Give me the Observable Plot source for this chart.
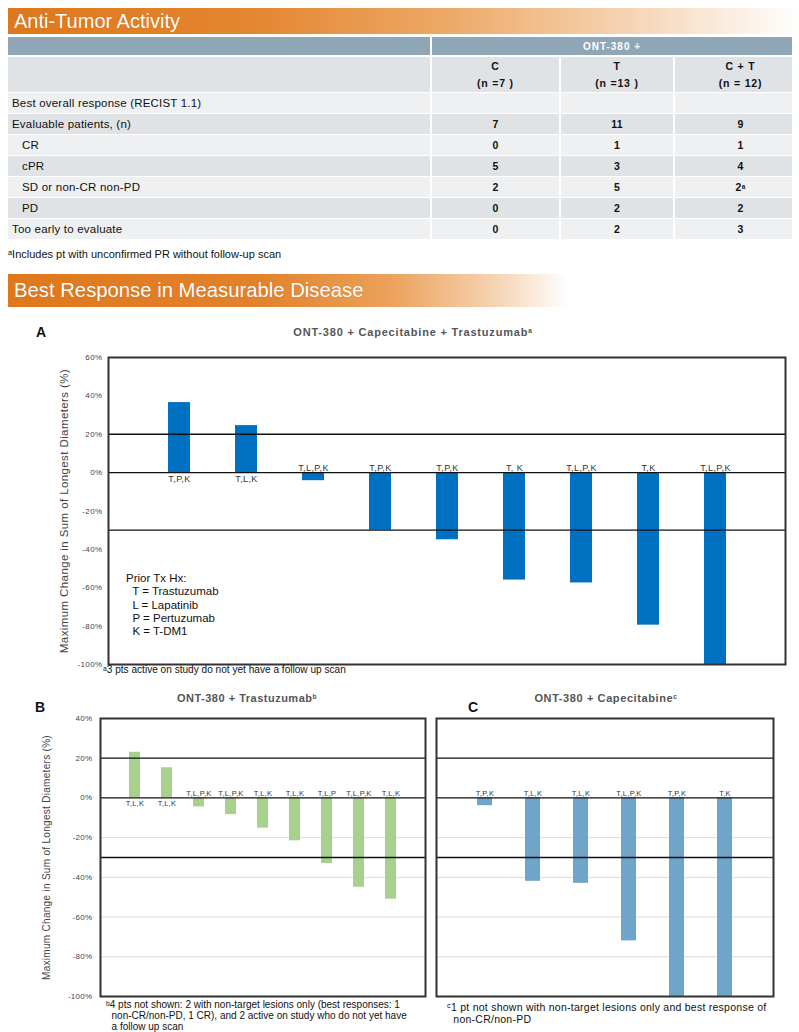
<!DOCTYPE html>
<html><head><meta charset="utf-8">
<script src="https://cdn.jsdelivr.net/npm/d3@7"></script>
<script src="https://cdn.jsdelivr.net/npm/@observablehq/plot@0.6"></script>
<style>
body{margin:0;width:799px;height:1032px;position:relative;font-family:"Liberation Sans",Arial,sans-serif;background:#fff;overflow:hidden;color:#111}
.banner{position:absolute;left:8px;color:#fff;padding-left:6px;box-sizing:border-box;text-shadow:0 0 1px rgba(120,50,0,0.4);white-space:nowrap}
.row{position:absolute;left:8px;width:784px}
.cell{position:absolute;top:0;height:100%;box-sizing:border-box;display:flex;align-items:center;white-space:nowrap}
.num{justify-content:center;font-weight:bold;font-size:10.5px;border-left:2px solid #fff;letter-spacing:0.3px}
.lab{font-size:11.5px;padding-left:4px;letter-spacing:0.2px}
.ind{padding-left:14px}
.title{position:absolute;font-weight:bold;font-size:11px;letter-spacing:0.6px;color:#555;white-space:nowrap;transform:translate(-50%,-50%)}
.panel{position:absolute;font-weight:bold;font-size:14px;color:#111;transform:translateY(-50%)}
.note{position:absolute;font-size:10.5px;line-height:12px;color:#111;white-space:nowrap}
sup{font-size:0.6em;vertical-align:0.45em;line-height:0}
.legend{position:absolute;left:126px;top:572px;font-size:11.5px;line-height:13.3px;color:#111;white-space:pre}
</style></head><body>
<div class="banner" style="top:8px;height:26px;width:791px;font-size:20px;line-height:26px;background:linear-gradient(to right,#df781c 0%,#e4852f 30%,#eca865 55%,#f5d3b2 78%,#fff 100%)">Anti-Tumor Activity</div>
<div id="table"></div>
<div class="note" style="left:8px;top:248px;font-size:11px">ᵃIncludes pt with unconfirmed PR without follow-up scan</div>
<div class="banner" style="top:274px;height:33px;width:560px;font-size:20.3px;line-height:33px;background:linear-gradient(to right,#df781c 0%,#e3822b 45%,#eba15a 68%,#f6d6b8 88%,#fff 100%)">Best Response in Measurable Disease</div>
<div id="charts"></div>
<div class="panel" style="left:36px;top:332px">A</div>
<div class="title" style="left:413px;top:332px;letter-spacing:0.8px">ONT-380 + Capecitabine + Trastuzumab<sup>a</sup></div>
<div class="legend">Prior Tx Hx:
  T = Trastuzumab
  L = Lapatinib
  P = Pertuzumab
  K = T-DM1</div>
<div class="note" style="left:103px;top:664px;font-size:10.1px">ᵃ3 pts active on study do not yet have a follow up scan</div>
<div class="panel" style="left:35px;top:707px">B</div>
<div class="title" style="left:247px;top:698px;letter-spacing:0.5px">ONT-380 + Trastuzumab<sup>b</sup></div>
<div class="panel" style="left:468px;top:707px">C</div>
<div class="title" style="left:606px;top:698px">ONT-380 + Capecitabine<sup>c</sup></div>
<div class="note" style="left:106px;top:999px;font-size:10px;line-height:11px">ᵇ4 pts not shown: 2 with non-target lesions only (best responses: 1<br>&nbsp;&nbsp;non-CR/non-PD, 1 CR), and 2 active on study who do not yet have<br>&nbsp;&nbsp;a follow up scan</div>
<div class="note" style="left:447px;top:1001px;font-size:10.5px;letter-spacing:0.25px">ᶜ1 pt not shown with non-target lesions only and best response of<br>&nbsp;&nbsp;non-CR/non-PD</div>
<script>
// ---------- table data ----------
const groupHeader = "ONT-380 +";
const groups = ["C", "T", "C + T"];
const groupNs = ["(n =7 )", "(n =13 )", "(n = 12)"];
const rowLabels = ["Best overall response (RECIST 1.1)", "Evaluable patients, (n)", "CR", "cPR", "SD or non-CR non-PD", "PD", "Too early to evaluate"];
const rowIndented = [false, false, true, true, true, true, false];
const valuesC = ["", "7", "0", "5", "2", "0", "0"];
const valuesT = ["", "11", "1", "3", "5", "2", "2"];
const valuesCT = ["", "9", "1", "4", "2", "2", "3"];
const notesCT = ["", "", "", "", "a", "", ""];

// ---------- waterfall data ----------
const aLabels = ["T,P,K", "T,L,K", "T,L,P,K", "T,P,K", "T,P,K", "T, K", "T,L,P,K", "T,K", "T,L,P,K"];
const aValues = [36.5, 24.5, -4.2, -30, -35, -56, -57.5, -79.5, -100];
const bLabels = ["T,L,K", "T,L,K", "T,L,P,K", "T,L,P,K", "T,L,K", "T,L,K", "T,L,P", "T,L,P,K", "T,L,K"];
const bValues = [23, 15.2, -4.5, -8.4, -15.2, -21.6, -33, -45, -51];
const cLabels = ["T,P,K", "T,L,K", "T,L,K", "T,L,P,K", "T,P,K", "T,K"];
const cValues = [-3.9, -42, -43, -72, -100, -100];
const aTicks = [60, 40, 20, 0, -20, -40, -60, -80, -100];
const bTicks = [40, 20, 0, -20, -40, -60, -80, -100];
const refLines = [20, 0, -30];
const gridLines = [-20, -40, -60, -80];
const yLabel = "Maximum Change in Sum of Longest Diameters (%)";

// ---------- table ----------
const tbl = d3.select("#table");
const colX = [0, 422, 551, 665, 784];
const light = "#eef0f2", dark = "#dfe3e6";
const h1 = tbl.append("div").attr("class", "row").style("top", "37px").style("height", "18px").style("background", "#8fa6b7");
h1.append("div").attr("class", "cell num").style("left", colX[1] + "px").style("width", (colX[4] - colX[1]) + "px")
  .style("color", "#fff").style("font-size", "10px").style("letter-spacing", "1px").text(groupHeader);
const h2 = tbl.append("div").attr("class", "row").style("top", "57px").style("height", "35px").style("background", dark);
groups.forEach((g, i) => {
  h2.append("div").attr("class", "cell num").style("left", colX[i + 1] + "px").style("width", (colX[i + 2] - colX[i + 1]) + "px")
    .style("flex-direction", "column").style("justify-content", "center").style("font-size", "10.5px").style("line-height", "17px")
    .style("letter-spacing", "0.8px").style("padding-left", i === 2 ? "14px" : "0")
    .html(`<div>${g}</div><div>${groupNs[i]}</div>`);
});
rowLabels.forEach((lab, r) => {
  const row = tbl.append("div").attr("class", "row").style("top", (93 + r * 21) + "px").style("height", "20px")
    .style("background", r % 2 === 0 ? light : dark);
  row.append("div").attr("class", "cell lab" + (rowIndented[r] ? " ind" : "")).style("left", "0px").style("width", colX[1] + "px").text(lab);
  [valuesC, valuesT, valuesCT].forEach((vals, i) => {
    const c = row.append("div").attr("class", "cell num").style("left", colX[i + 1] + "px").style("width", (colX[i + 2] - colX[i + 1]) + "px")
      .style("padding-left", i === 2 ? "14px" : "0");
    c.html(vals[r] + (i === 2 && notesCT[r] ? `<sup>${notesCT[r]}</sup>` : ""));
  });
});

// ---------- charts ----------
function waterfall(o) {
  const data = o.labels.map((l, i) => ({id: i, label: l, value: o.values[i]}));
  const marks = [];
  if (o.grid) marks.push(Plot.ruleY(gridLines, {stroke: "#dadada", strokeWidth: 1}));
  marks.push(Plot.barY(data, {x: "id", y: "value", fill: o.color}));
  marks.push(Plot.ruleY(refLines, {stroke: "#111", strokeWidth: 1.3}));
  marks.push(Plot.text(data.filter(d => d.value > 0), {x: "id", y: 0, text: "label", lineAnchor: "top", dy: 3, fontSize: o.fontSize, fill: "#333"}));
  marks.push(Plot.text(data.filter(d => d.value <= 0), {x: "id", y: 0, text: "label", lineAnchor: "bottom", dy: -2, fontSize: o.fontSize, fill: "#333"}));
  if (o.ticks) {
    marks.push(Plot.axisY({ticks: o.ticks, tickFormat: d => d + "%", tickSize: 0, tickPadding: o.tickPadding, fontSize: 8, color: "#444", label: null}));
    marks.push(Plot.text([yLabel], {frameAnchor: "left", text: d => d, rotate: -90, textAnchor: "middle", dx: o.labelDx, fontSize: o.labelSize, fill: "#444"}));
  }
  marks.push(Plot.frame({stroke: "#333", strokeWidth: 2}));
  const svg = Plot.plot({
    width: o.width, height: o.height,
    marginLeft: o.ml, marginRight: o.mr, marginTop: o.mt, marginBottom: o.mb,
    style: {fontFamily: "Liberation Sans, Arial, sans-serif", background: "transparent", overflow: "visible", letterSpacing: o.spacing},
    x: {type: "band", domain: data.map(d => d.id), paddingInner: o.pi, paddingOuter: o.po, axis: null},
    y: {domain: o.domain, axis: null},
    marks
  });
  svg.style.position = "absolute";
  svg.style.left = o.left + "px";
  svg.style.top = o.top + "px";
  document.getElementById("charts").appendChild(svg);
}
waterfall({labels: aLabels, values: aValues, color: "#0070c0", left: 0, top: 340, width: 799, height: 340,
  ml: 108, mr: 14, mt: 17, mb: 16, domain: [-100, 60], pi: 0.675, po: 0.8375, fontSize: 9,
  ticks: aTicks, tickPadding: 6, labelDx: -44, labelSize: 11.5, grid: false, spacing: "0.4px"});
waterfall({labels: bLabels, values: bValues, color: "#a9d18e", left: 0, top: 700, width: 431, height: 300,
  ml: 100, mr: 6, mt: 18, mb: 4, domain: [-100, 40], pi: 0.66, po: 0.83, fontSize: 7.5,
  ticks: bTicks, tickPadding: 8, labelDx: -54, labelSize: 10, grid: true, spacing: "0.3px"});
waterfall({labels: cLabels, values: cValues, color: "#6fa5c8", left: 431, top: 700, width: 348, height: 300,
  ml: 5, mr: 6, mt: 18, mb: 4, domain: [-100, 40], pi: 0.69, po: 0.845, fontSize: 7.5,
  ticks: null, grid: true, spacing: "0.3px"});
</script>
</body></html>
